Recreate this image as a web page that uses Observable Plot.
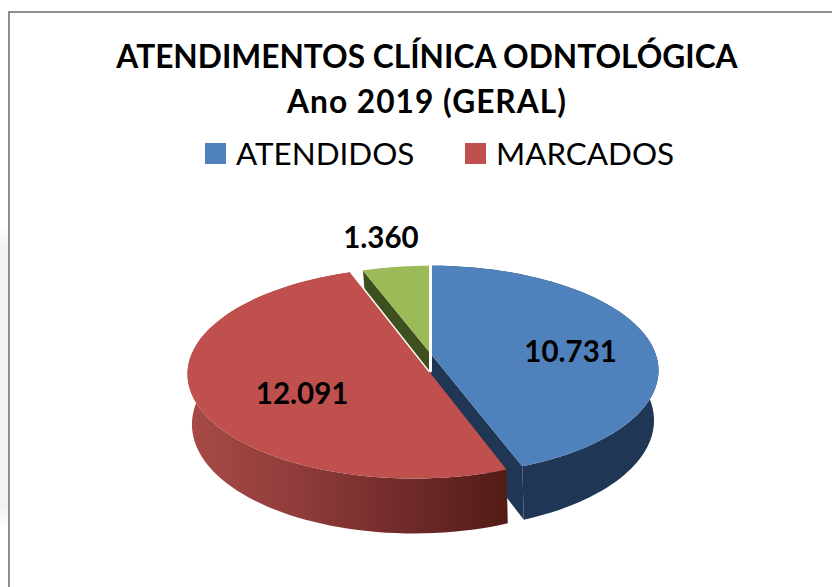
<!DOCTYPE html>
<html lang="pt-BR">
<head>
<meta charset="utf-8">
<script src="https://cdn.jsdelivr.net/npm/d3@7"></script>
<script src="https://cdn.jsdelivr.net/npm/@observablehq/plot@0.6"></script>
<style>
  html, body { margin: 0; padding: 0; background: #fff; width: 832px; height: 587px; overflow: hidden; }
  body { font-family: Lato, "Open Sans", sans-serif; color: #000; position: relative; }
  #strip { position: absolute; left: 0; top: 225px; width: 8px; height: 305px; background: linear-gradient(#fff, #f2f2f2 8%, #f2f2f2 92%, #fff); }
  #frame { position: absolute; left: 8px; top: 11px; right: -4px; bottom: -4px; border: 2px solid #8f8f8f; }
  #header { position: relative; height: 195px; }
  .title { position: absolute; left: 0; width: 854px; text-align: center; font-weight: 700; font-size: 31.7px; line-height: 40px; white-space: nowrap; }
  .swatch { position: absolute; top: 143px; width: 21px; height: 21px; }
  .legend { position: absolute; top: 133px; font-size: 31.4px; line-height: 40px; white-space: nowrap; }
  #chart { position: absolute; left: 0; top: 195px; }
  #chart svg { display: block; }
</style>
</head>
<body>
<div id="strip"></div>
<div id="frame"></div>
<div id="header"></div>
<div id="chart"></div>
<script>
// Data
const categories = ["ATENDIDOS", "MARCADOS", "OUTROS"];
const values = [10731, 12091, 1360];
const topColors = ["#4f81bd", "#c0504d", "#9bbb59"];
const titleLines = ["ATENDIMENTOS CLÍNICA ODNTOLÓGICA", "Ano 2019 (GERAL)"];
const legendItems = ["ATENDIDOS", "MARCADOS"];

// Perspective model of the 3D pie
const total = d3.sum(values);
const cx = 430, cy = 353;
const topPlane = {cx, cy, bx: 225, by: 102, k: 0.162};
const lowPlane = {cx, cy: cy + 45, bx: 219, by: 105, k: 0.2};
const sideBlue = "#1f3655", sideGreen = "#3f5020";
const explode = [0, 0.065, 0];

function project(p, u, v) {
  const w = 1 + p.k * v;
  return {x: p.cx + p.bx * u / w, y: p.cy - p.by * v / w};
}
let acc = 0;
const slices = values.map((v, i) => {
  const a0 = acc / total * 2 * Math.PI;
  acc += v;
  const a1 = acc / total * 2 * Math.PI;
  const mid = (a0 + a1) / 2;
  return {i, a0, a1, mid, ex: explode[i] * Math.sin(mid), ey: explode[i] * Math.cos(mid)};
});
function arc(s, p, n = 90) {
  return d3.range(n + 1).map(j => {
    const t = s.a0 + (s.a1 - s.a0) * j / n;
    return project(p, Math.sin(t) + s.ex, Math.cos(t) + s.ey);
  });
}
const centre = (s, p) => project(p, s.ex, s.ey);
const [blue, red, green] = slices;

const blueTop = [centre(blue, topPlane), ...arc(blue, topPlane)];
const greenTop = [centre(green, topPlane), ...arc(green, topPlane)];
const redTop = arc(red, topPlane);
const band = (s) => [...arc(s, topPlane), ...arc(s, lowPlane).reverse()];
const blueCut = [centre(blue, topPlane), arc(blue, topPlane).at(-1), arc(blue, lowPlane).at(-1), centre(blue, lowPlane)];
const greenCut = [centre(green, topPlane), arc(green, topPlane)[0], arc(green, lowPlane)[0], centre(green, lowPlane)];

// Labels, placed by radius along each slice's mid-angle
const fmt = d3.formatLocale({decimal: ",", thousands: ".", grouping: [3], currency: ["", ""]}).format(",");
const labelRadius = [0.63, 0.51, 1.3];
const labelNudge = [[3, 10], [-3, 20], [-7, -7]];
const labels = slices.map((s, i) => {
  const r = labelRadius[i];
  const q = project(topPlane, r * Math.sin(s.mid) + s.ex, r * Math.cos(s.mid) + s.ey);
  return {x: q.x + labelNudge[i][0], y: q.y + labelNudge[i][1], text: fmt(values[i])};
});

const face = (pts, fill) => Plot.line(pts, {x: "x", y: "y", fill, stroke: "none", curve: "linear-closed"});
const redEnd = arc(red, topPlane);
const whiteLines = [
  Plot.line([arc(blue, topPlane)[0], {x: cx, y: (redEnd[0].y + redEnd.at(-1).y) / 2}], {x: "x", y: "y", stroke: "#fff", strokeWidth: 3}),
  Plot.line([redEnd.at(-1), {x: (redEnd[0].x + redEnd.at(-1).x) / 2, y: (redEnd[0].y + redEnd.at(-1).y) / 2}], {x: "x", y: "y", stroke: "#fff", strokeWidth: 1.5})
];

const defs = () => {
  const d = d3.create("svg:defs");
  const g = d.append("linearGradient").attr("id", "redSide").attr("gradientUnits", "userSpaceOnUse")
    .attr("x1", 187).attr("x2", 504).attr("y1", 0).attr("y2", 0);
  [[0, "#a84a47"], [0.35, "#8f3c3a"], [0.7, "#6f2a29"], [1, "#541c16"]].forEach(([o, c]) =>
    g.append("stop").attr("offset", o).attr("stop-color", c));
  return d.node();
};

const chart = Plot.plot({
  width: 832,
  height: 392,
  margin: 0,
  style: {background: "transparent"},
  x: {domain: [0, 832], range: [0, 832], axis: null},
  y: {domain: [195, 587], range: [0, 392], axis: null},
  marks: [
    defs,
    face(greenCut, sideGreen),
    face(greenTop, topColors[2]),
    face(blueCut, sideBlue),
    face(band(blue), sideBlue),
    face(blueTop, topColors[0]),
    face(band(red), "url(#redSide)"),
    face(redTop, topColors[1]),
    ...whiteLines,
    Plot.text(labels, {x: "x", y: "y", text: "text", fontSize: 29.5, fontWeight: 700, fontFamily: "Lato, sans-serif", fill: "#000"})
  ]
});
document.getElementById("chart").append(chart);

// Title and legend
const header = d3.select("#header");
titleLines.forEach((t, i) => header.append("div").attr("class", "title")
  .style("top", (36 + i * 45) + "px")
  .style("letter-spacing", i === 1 ? "1px" : null)
  .text(t));
legendItems.forEach((t, i) => {
  const left = [205, 465][i];
  header.append("div").attr("class", "swatch").style("left", left + "px").style("background", topColors[i]);
  header.append("div").attr("class", "legend").style("left", (left + 31) + "px").text(t);
});
</script>
</body>
</html>
